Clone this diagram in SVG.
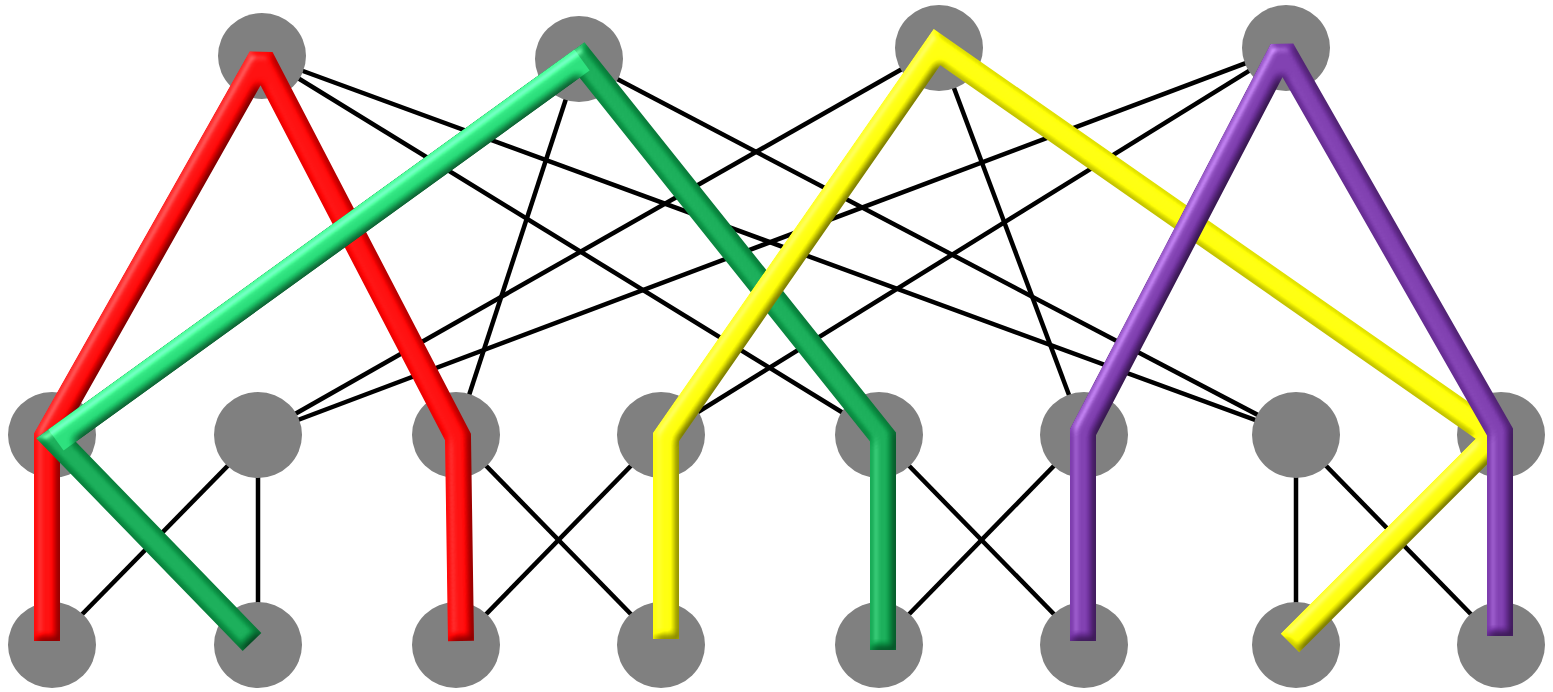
<svg xmlns="http://www.w3.org/2000/svg" width="1553" height="692" viewBox="0 0 1553 692">
<style>
.node{fill:#808080}
.edge{stroke:#000;stroke-width:4.5;fill:none}
.tube{fill:none;stroke-width:26;stroke-linejoin:miter;stroke-miterlimit:1.8;stroke-linecap:butt}
</style>
<defs>
<filter id="tube3d" x="-10%" y="-10%" width="120%" height="120%" color-interpolation-filters="sRGB">
<feGaussianBlur in="SourceAlpha" stdDeviation="4.5" result="blur"/>
<feDiffuseLighting in="blur" surfaceScale="4" diffuseConstant="1.15" lighting-color="#ffffff" result="diff">
<feDistantLight azimuth="225" elevation="62"/>
</feDiffuseLighting>
<feSpecularLighting in="blur" surfaceScale="4" specularConstant="0.35" specularExponent="20" lighting-color="#ffffff" result="spec">
<feDistantLight azimuth="225" elevation="45"/>
</feSpecularLighting>
<feComposite in="spec" in2="SourceAlpha" operator="in" result="specIn"/>
<feComposite in="SourceGraphic" in2="diff" operator="arithmetic" k1="1" k2="0" k3="0" k4="0" result="lit"/>
<feComposite in="lit" in2="specIn" operator="arithmetic" k1="0" k2="1" k3="1" k4="0"/>
</filter>
</defs>
<rect width="1553" height="692" fill="#ffffff"/>
<g id="connectors">
<line class="edge" x1="262" y1="56" x2="879" y2="435"/>
<line class="edge" x1="262" y1="56" x2="1296" y2="435"/>
<line class="edge" x1="579" y1="59" x2="456" y2="435"/>
<line class="edge" x1="579" y1="59" x2="1296" y2="435"/>
<line class="edge" x1="939" y1="48" x2="258" y2="435"/>
<line class="edge" x1="939" y1="48" x2="1084" y2="435"/>
<line class="edge" x1="1286" y1="48" x2="258" y2="435"/>
<line class="edge" x1="1286" y1="48" x2="661" y2="435"/>
<line class="edge" x1="258" y1="435" x2="52" y2="645"/>
<line class="edge" x1="258" y1="435" x2="258" y2="645"/>
<line class="edge" x1="456" y1="435" x2="661" y2="645"/>
<line class="edge" x1="661" y1="435" x2="456" y2="645"/>
<line class="edge" x1="879" y1="435" x2="1084" y2="645"/>
<line class="edge" x1="1084" y1="435" x2="879" y2="645"/>
<line class="edge" x1="1296" y1="435" x2="1296" y2="645"/>
<line class="edge" x1="1296" y1="435" x2="1501" y2="645"/>
</g>
<g id="core1"><ellipse class="node" cx="262" cy="56" rx="44" ry="43"/></g>
<g id="core2"><ellipse class="node" cx="579" cy="59" rx="44" ry="43"/></g>
<g id="core3"><ellipse class="node" cx="939" cy="48" rx="44" ry="43"/></g>
<g id="core4"><ellipse class="node" cx="1286" cy="48" rx="44" ry="43"/></g>
<g id="agg1"><ellipse class="node" cx="52" cy="435" rx="44" ry="43"/></g>
<g id="agg2"><ellipse class="node" cx="258" cy="435" rx="44" ry="43"/></g>
<g id="agg3"><ellipse class="node" cx="456" cy="435" rx="44" ry="43"/></g>
<g id="agg4"><ellipse class="node" cx="661" cy="435" rx="44" ry="43"/></g>
<g id="agg5"><ellipse class="node" cx="879" cy="435" rx="44" ry="43"/></g>
<g id="agg6"><ellipse class="node" cx="1084" cy="435" rx="44" ry="43"/></g>
<g id="agg7"><ellipse class="node" cx="1296" cy="435" rx="44" ry="43"/></g>
<g id="agg8"><ellipse class="node" cx="1501" cy="435" rx="44" ry="43"/></g>
<g id="edge1"><ellipse class="node" cx="52" cy="645" rx="44" ry="43"/></g>
<g id="edge2"><ellipse class="node" cx="258" cy="645" rx="44" ry="43"/></g>
<g id="edge3"><ellipse class="node" cx="456" cy="645" rx="44" ry="43"/></g>
<g id="edge4"><ellipse class="node" cx="661" cy="645" rx="44" ry="43"/></g>
<g id="edge5"><ellipse class="node" cx="879" cy="645" rx="44" ry="43"/></g>
<g id="edge6"><ellipse class="node" cx="1084" cy="645" rx="44" ry="43"/></g>
<g id="edge7"><ellipse class="node" cx="1296" cy="645" rx="44" ry="43"/></g>
<g id="edge8"><ellipse class="node" cx="1501" cy="645" rx="44" ry="43"/></g>
<g id="path-red" filter="url(#tube3d)">
<polyline class="tube" stroke="#ff0000" points="47,641 47,437 261,58 458,437 461,641"/>
</g>
<g id="path-green" filter="url(#tube3d)">
<polyline class="tube" stroke="#0b9e4a" points="252,642 56,440 582,60 883,437 883,650"/>
<line class="tube" stroke="#1ccf6c" x1="56" y1="440" x2="582" y2="60"/>
</g>
<g id="path-yellow" filter="url(#tube3d)">
<polyline class="tube" stroke="#ffff00" points="666,639 666,437 937,47 1496,437"/>
<line class="tube" stroke="#ffff00" x1="1496" y1="437" x2="1290" y2="643"/>
</g>
<g id="path-purple" filter="url(#tube3d)">
<polyline class="tube" stroke="#7030a0" points="1083,641 1083,432 1282,50 1500,432 1500,636"/>
</g>
</svg>
